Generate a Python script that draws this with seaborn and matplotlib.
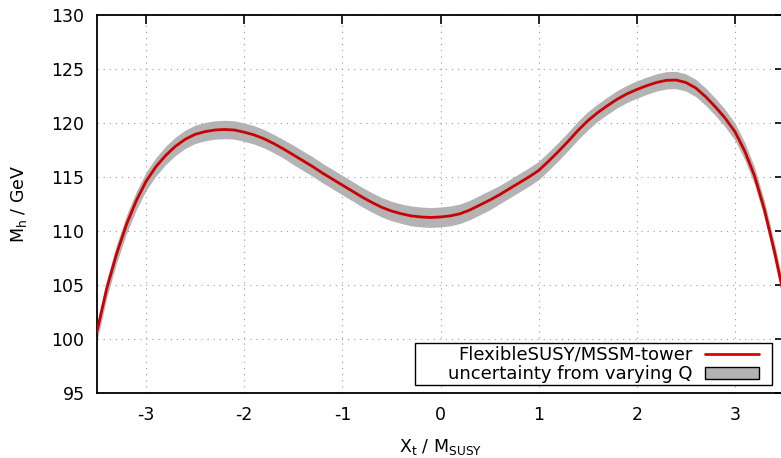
import numpy as np
import pandas as pd
import matplotlib.pyplot as plt
import seaborn as sns
from matplotlib.lines import Line2D
from matplotlib.patches import Patch, Rectangle

# X_t / M_SUSY sampling points
xt_ratio = [-3.5, -3.4, -3.3, -3.2, -3.1, -3.0, -2.9, -2.8, -2.7, -2.6,
            -2.5, -2.4, -2.3, -2.2, -2.1, -2.0, -1.9, -1.8, -1.7, -1.6,
            -1.5, -1.4, -1.3, -1.2, -1.1, -1.0, -0.9, -0.8, -0.7, -0.6,
            -0.5, -0.4, -0.3, -0.2, -0.1, 0.0, 0.1, 0.2, 0.3, 0.4,
            0.5, 0.6, 0.7, 0.8, 0.9, 1.0, 1.1, 1.2, 1.3, 1.4,
            1.5, 1.6, 1.7, 1.8, 1.9, 2.0, 2.1, 2.2, 2.3, 2.4,
            2.5, 2.6, 2.7, 2.8, 2.9, 3.0, 3.1, 3.2, 3.3, 3.4, 3.5]

# central Higgs mass, FlexibleSUSY/MSSM-tower
mh_tower = [100.7, 104.7, 107.9, 110.6, 112.8, 114.6, 115.95, 117.0, 117.85, 118.5,
            118.95, 119.2, 119.35, 119.4, 119.35, 119.15, 118.9, 118.55, 118.1, 117.6,
            117.05, 116.5, 115.95, 115.35, 114.8, 114.25, 113.7, 113.15, 112.65, 112.2,
            111.85, 111.6, 111.4, 111.3, 111.25, 111.3, 111.4, 111.6, 111.95, 112.4,
            112.85, 113.35, 113.9, 114.45, 115.0, 115.6, 116.45, 117.35, 118.3, 119.3,
            120.2, 120.95, 121.6, 122.2, 122.7, 123.1, 123.45, 123.75, 123.95, 123.98,
            123.75, 123.25, 122.45, 121.5, 120.45, 119.2, 117.4, 115.1, 112.0, 108.2, 104.0]

# half width of the band from varying Q
mh_q_spread = [0.85, 0.85, 0.85, 0.85, 0.85, 0.85, 0.85, 0.85, 0.85, 0.85,
               0.85, 0.85, 0.85, 0.85, 0.85, 0.85, 0.85, 0.85, 0.85, 0.85,
               0.9, 0.9, 0.9, 0.9, 0.9, 0.9, 0.9, 0.9, 0.9, 0.9,
               0.9, 0.9, 0.92, 0.92, 0.92, 0.92, 0.92, 0.9, 0.9, 0.9,
               0.9, 0.85, 0.85, 0.85, 0.85, 0.85, 0.85, 0.85, 0.85, 0.85,
               0.85, 0.8, 0.8, 0.8, 0.8, 0.8, 0.8, 0.8, 0.8, 0.8,
               0.8, 0.8, 0.8, 0.8, 0.8, 0.8, 0.8, 0.8, 0.8, 0.8, 0.8]

x_ticks = [-3, -2, -1, 0, 1, 2, 3]
y_ticks = [95, 100, 105, 110, 115, 120, 125, 130]

df = pd.DataFrame({'xt': xt_ratio, 'mh': mh_tower, 'dq': mh_q_spread})
df['lo'] = df['mh'] - df['dq']
df['hi'] = df['mh'] + df['dq']

sns.set_theme(style='white')
plt.rcParams['font.family'] = ['DejaVu Sans']
plt.rcParams['mathtext.default'] = 'regular'
plt.rcParams['text.color'] = 'black'
plt.rcParams['axes.labelcolor'] = 'black'

fs = 12.5
fig = plt.figure(figsize=(7.81, 4.58), dpi=100)
ax = fig.add_axes([97 / 781, 65 / 458, 687 / 781, 378 / 458])

band_col = '#b3b3b3'
line_col = '#cc0000'

ax.fill_between(df['xt'], df['lo'], df['hi'], color=band_col, lw=0, zorder=2)
sns.lineplot(data=df, x='xt', y='mh', color=line_col, lw=2.0, ax=ax, zorder=3)

ax.set_xlim(-3.5, 3.5)
ax.set_ylim(95, 130)
ax.set_xticks(x_ticks)
ax.set_yticks(y_ticks)
ax.set_xticklabels([str(t) for t in x_ticks])
ax.grid(True, color='#999999', lw=0.8, linestyle=(0, (1, 4.5)), zorder=1)
ax.set_axisbelow(True)

ax.tick_params(direction='in', length=6.5, width=1.2, colors='black',
               labelcolor='black', top=True, right=True, labelsize=fs, pad=9)
for s in ax.spines.values():
    s.set_color('black')
    s.set_linewidth(1.3)

ax.set_xlabel(r'$X_t$ / $M_{SUSY}$', fontsize=fs, labelpad=10, color='black')
ax.set_ylabel(r'$M_h$ / GeV', fontsize=fs, labelpad=16, color='black')

# gnuplot-like key: fixed box, text right-aligned left of the samples
key_box = Rectangle((0.4629, 0.0212), 0.5196, 0.1111, transform=ax.transAxes,
                    facecolor='white', edgecolor='black', lw=1.0, zorder=4)
ax.add_patch(key_box)

handles = [Line2D([], [], color='#e00000', lw=2),
           Patch(facecolor=band_col, edgecolor='black', lw=1)]
labels = ['FlexibleSUSY/MSSM-tower', 'uncertainty from varying Q']
leg = ax.legend(handles, labels, loc='lower right', bbox_to_anchor=(0.9636, 0.026),
                borderaxespad=0, markerfirst=False, fontsize=13, frameon=False,
                handlelength=3.0, handleheight=0.65, handletextpad=0.7,
                labelspacing=0.08, borderpad=0)
leg.set_zorder(5)
for t in leg.get_texts():
    t.set_color('black')

plt.savefig('out.png', dpi=100)
plt.close()
